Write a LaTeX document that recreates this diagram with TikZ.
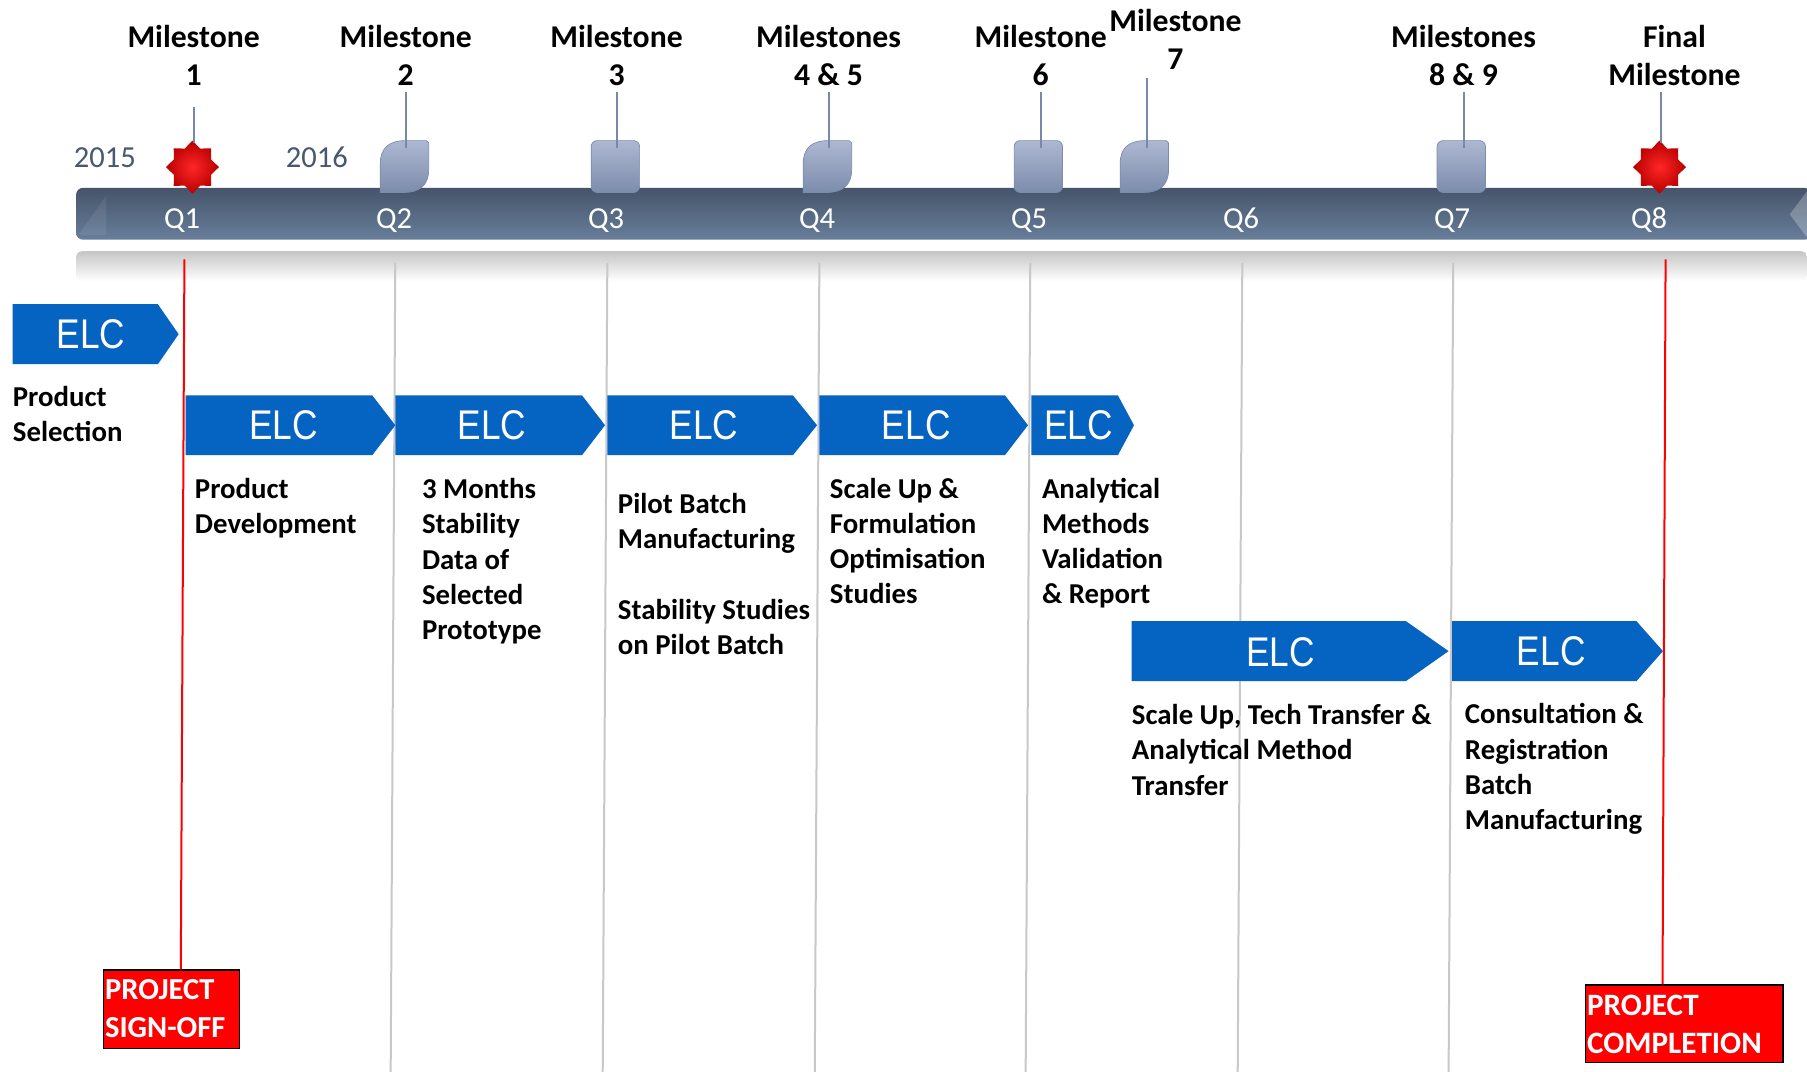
\documentclass[tikz,border=0pt]{standalone}
\usepackage{fontspec}
\setmainfont{Carlito}
\newfontfamily\elcfont[FakeStretch=0.85]{Liberation Sans}
\usetikzlibrary{shapes.geometric}
\definecolor{elcblue}{RGB}{5,99,193}
\definecolor{bartop}{RGB}{70,84,106}
\definecolor{barbot}{RGB}{104,126,155}
\definecolor{msfill}{RGB}{152,166,198}
\definecolor{msdark}{RGB}{124,140,172}
\definecolor{stemc}{RGB}{120,136,168}
\definecolor{gridc}{RGB}{200,200,200}
\definecolor{yearc}{RGB}{72,88,112}
\tikzset{
  lbl/.style={font=\fontsize{25}{30.6}\selectfont\bfseries, align=left, anchor=base west, inner sep=0pt},
  mslbl/.style={font=\fontsize{27.5}{33}\selectfont\bfseries, align=center, anchor=base, inner sep=0pt},
  qlbl/.style={font=\fontsize{26.5}{30}\selectfont, text=white, anchor=base, inner sep=0pt},
  yearlbl/.style={font=\fontsize{26.5}{30}\selectfont, text=yearc, anchor=base, inner sep=0pt},
  elctxt/.style={font=\fontsize{36}{40}\elcfont, text=white, inner sep=0pt},
  ms/.style={top color=msfill!80!white, bottom color=msdark, draw=msdark, line width=0.7pt},
  stem/.style={draw=stemc, line width=1.8pt},
  grid/.style={draw=gridc, line width=2pt},
  redline/.style={draw=red, line width=2pt},
  starms/.style={star, star points=8, star point ratio=1.32, minimum size=46pt, inner sep=0pt,
     inner color=red!85!white, outer color=red!72!black, draw=none},
  redbox/.style={fill=red, draw=black, line width=1.7pt, inner sep=0pt, anchor=north west},
  redtxt/.style={text=white, align=left, anchor=base west, inner sep=0pt, font=\fontsize{26.5}{33}\selectfont\bfseries}
}
\newcommand\mleaf[1]{\begin{scope}[shift={(#1,122)}]
  \path[ms] (0,45) -- (0,20) .. controls (0,6) and (8,0) .. (22,0) -- (40,0) -- (42,2) -- (42,25) .. controls (42,39) and (34,45) .. (20,45) -- cycle;
\end{scope}}
\newcommand\msquare[1]{\begin{scope}[shift={(#1,122)}]
  \path[ms, rounded corners=6pt] (0,0) rectangle (42,45);
\end{scope}}
\newcommand\elcarrow[4]{\fill[elcblue] (#1,#4) -- (#3,#4) -- (#2,#4+26) -- (#3,#4+52) -- (#1,#4+52) -- cycle;}
\begin{document}
\begin{tikzpicture}[x=1pt,y=-1pt,scale=1.15242,every node/.style={transform shape}]
\useasboundingbox[fill=white] (0,0) rectangle (1568,930.2);

% reflection strip under the bar
\path[top color=gray!45!white, bottom color=white, draw=none, rounded corners=6pt] (66,218) rectangle (1568,244);

% grid lines
\foreach \xa/\xb in {343/339, 527/523, 711/707, 894/890, 1078/1074, 1261/1257}
  \draw[grid] (\xa,228) -- (\xb,930.2);

% timeline bar
\path[top color=bartop, bottom color=barbot, rounded corners=7pt] (66,163) rectangle (1572,208);
\fill[white, opacity=0.07] (68,204) -- (92,170) -- (92,204) -- cycle;
\fill[white, opacity=0.25] (1568,166) -- (1553,186) -- (1568,206) -- cycle;

% years and quarters
\node[yearlbl] (y2015) at (91,145.5) {2015};
\node[yearlbl] (y2016) at (275,145.5) {2016};
\foreach \x/\q in {158/Q1, 342/Q2, 526/Q3, 709/Q4, 893/Q5, 1077/Q6, 1260/Q7, 1431/Q8}
  \node[qlbl] (\q) at (\x,198.5) {\q};

% milestone labels (anchor = baseline of last line)
\node[mslbl] (m1) at (168,74) {Milestone\\1};
\node[mslbl] (m2) at (352,74) {Milestone\\2};
\node[mslbl] (m3) at (535,74) {Milestone\\3};
\node[mslbl] (m45) at (719,74) {Milestones\\4 \& 5};
\node[mslbl] (m6) at (903,74) {Milestone\\6};
\node[mslbl] (m7) at (1020,60) {Milestone\\7};
\node[mslbl] (m89) at (1270,74) {Milestones\\8 \& 9};
\node[mslbl] (mf) at (1453,74) {Final\\Milestone};

% stems
\coordinate (s1a) at (168,93);  \coordinate (s1b) at (168,124);
\coordinate (s2a) at (352,80);  \coordinate (s2b) at (352,128);
\coordinate (s3a) at (535,80);  \coordinate (s3b) at (535,128);
\coordinate (s4a) at (719,80);  \coordinate (s4b) at (719,128);
\coordinate (s6a) at (903,80);  \coordinate (s6b) at (903,128);
\coordinate (s7a) at (995,68);  \coordinate (s7b) at (995,128);
\coordinate (s8a) at (1270,80); \coordinate (s8b) at (1270,128);
\coordinate (sfa) at (1441,80); \coordinate (sfb) at (1441,124);

% milestone markers
\node[starms] (star1) at (167,145) {};
\node[starms] (starf) at (1440,145) {};
\mleaf{330}
\msquare{513}
\mleaf{697}
\msquare{880}
\mleaf{972}
\msquare{1247}
\foreach \a/\b in {s1a/s1b, s2a/s2b, s3a/s3b, s4a/s4b, s6a/s6b, s7a/s7b, s8a/s8b, sfa/sfb}
  \draw[stem] (\a) -- (\b);

% red project lines and boxes
\node[redbox, minimum width=118pt, minimum height=68pt] (signoff) at (89,841) {};
\node[redtxt] (signofft) at (91,900) {PROJECT\\SIGN-OFF};
\node[redbox, minimum width=171pt, minimum height=67pt] (complete) at (1375,854) {};
\node[redtxt, font=\fontsize{27}{33}\selectfont\bfseries] (completet) at (1377,914) {PROJECT\\COMPLETION};
\coordinate (r1top) at (160,225);
\coordinate (r8top) at (1445,225);
\draw[redline] (r1top) -- ([xshift=8pt]signoff.north);
\draw[redline] (r8top) -- ([xshift=-19pt]complete.north);

% ELC arrows
\elcarrow{11}{155}{137}{264}
\elcarrow{161}{343}{323}{343}
\elcarrow{343}{525}{505}{343}
\elcarrow{527}{709}{688}{343}
\elcarrow{711}{892}{872}{343}
\elcarrow{895}{984}{970}{343}
\elcarrow{982}{1257}{1220}{539}
\elcarrow{1260}{1443}{1420}{539}
\node[elctxt] (e1) at (79,290) {ELC};
\node[elctxt] (e2) at (246,369) {ELC};
\node[elctxt] (e3) at (427,369) {ELC};
\node[elctxt] (e4) at (611,369) {ELC};
\node[elctxt] (e5) at (795,369) {ELC};
\node[elctxt] (e6) at (936,369) {ELC};
\node[elctxt] (e7) at (1111,566) {ELC};
\node[elctxt] (e8) at (1346,565) {ELC};

% activity texts (anchor = baseline of last line)
\node[lbl] (t1) at (11,383) {Product\\Selection};
\node[lbl] (t2) at (169,463) {Product\\Development};
\node[lbl] (t3) at (366,555) {3 Months\\Stability\\Data of\\Selected\\Prototype};
\node[lbl] (t4) at (536,568) {Pilot Batch\\Manufacturing\\[30.6pt]Stability Studies\\on Pilot Batch};
\node[lbl] (t5) at (720,524) {Scale Up \&\\Formulation\\Optimisation\\Studies};
\node[lbl] (t6) at (904,524) {Analytical\\Methods\\Validation\\\& Report};
\node[lbl] (t7) at (982,690) {Scale Up, Tech Transfer \&\\Analytical Method\\Transfer};
\node[lbl] (t8) at (1271,720) {Consultation \&\\Registration\\Batch\\Manufacturing};
\end{tikzpicture}
\end{document}
